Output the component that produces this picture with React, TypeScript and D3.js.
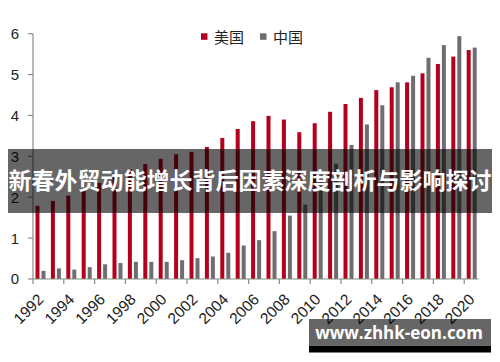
import React from 'react';
import * as d3 from 'd3';

const years = d3.range(1992, 2021);
const usValues = [1.79, 1.91, 2.04, 2.19, 2.35, 2.58, 2.68, 2.81, 2.94, 3.05, 3.11, 3.23, 3.45, 3.67, 3.86, 3.99, 3.9, 3.59, 3.81, 4.09, 4.28, 4.43, 4.62, 4.69, 4.81, 5.03, 5.26, 5.44, 5.6];
const chinaValues = [0.2, 0.26, 0.23, 0.29, 0.36, 0.39, 0.42, 0.42, 0.42, 0.46, 0.51, 0.55, 0.64, 0.82, 0.95, 1.17, 1.55, 1.82, 2.37, 2.82, 3.28, 3.78, 4.25, 4.81, 4.97, 5.41, 5.72, 5.94, 5.66];
const yTicks = [0, 1, 2, 3, 4, 5, 6];
const xTickYears = d3.range(1992, 2021, 2);
const seriesNames = ['美国', '中国'];
const seriesColors = ['#B4001E', '#6E6E6E'];
const bannerText = '新春外贸动能增长背后因素深度剖析与影响探讨';
const watermark = 'www.zhhk-eon.com';

const W = 500;
const H = 362;
const left = 33;
const bottom = 279;
const top = 33.7;
const step = 15.4;

const App: React.FC = () => {
  const x = d3.scaleBand<number>()
    .domain(years)
    .range([left, left + step * years.length])
    .padding(0);
  const y = d3.scaleLinear().domain([0, 6]).range([bottom, top]);
  const barW = 4;
  const axisColor = '#8a8a8a';
  const font = '"Liberation Sans", Arial, sans-serif';

  return (
    <div style={{ position: 'fixed', left: 0, top: 0, width: W, height: H, background: '#fff' }}>
      <svg width={W} height={H} style={{ display: 'block' }}>
        {/* bars */}
        {years.map((yr, i) => (
          <g key={yr}>
            <rect x={x(yr)! + 2.5} y={y(usValues[i])} width={barW} height={bottom - y(usValues[i])} fill={seriesColors[0]} />
            <rect x={x(yr)! + 8.5} y={y(chinaValues[i])} width={barW} height={bottom - y(chinaValues[i])} fill={seriesColors[1]} />
          </g>
        ))}

        {/* y axis */}
        <line x1={left} x2={left} y1={top} y2={bottom} stroke={axisColor} strokeWidth={1.2} />
        {yTicks.map(t => (
          <g key={t}>
            <line x1={left - 5} x2={left} y1={y(t)} y2={y(t)} stroke={axisColor} strokeWidth={1.2} />
            <text x={left - 14} y={y(t)} dy="0.36em" textAnchor="end" fontSize={15} fontFamily={font} fill="#222">{t}</text>
          </g>
        ))}

        {/* x axis */}
        <line x1={left} x2={x.range()[1] - 1} y1={bottom} y2={bottom} stroke={axisColor} strokeWidth={1.2} />
        {xTickYears.map(yr => (
          <g key={yr}>
            <line x1={x(yr)!} x2={x(yr)!} y1={bottom} y2={bottom + 5} stroke={axisColor} strokeWidth={1.2} />
            <text transform={`translate(${x(yr)! + 11.5},${bottom + 21.5}) rotate(-45)`} textAnchor="end" fontSize={15.5} fontFamily={font} fill="#222">{yr}</text>
          </g>
        ))}

        {/* legend */}
        {seriesNames.map((name, i) => (
          <g key={name} transform={`translate(${201 + i * 59},33.3)`}>
            <rect width={6.5} height={6.5} fill={seriesColors[i]} />
            <text x={13} y={3.5} dy="0.38em" fontSize={15} fontFamily='"Noto Sans CJK SC", sans-serif' fill="#222">{name}</text>
          </g>
        ))}

        {/* banner overlay */}
        <rect x={8} y={149} width={484} height={64} fill="rgba(0,0,0,0.6)" />
        <text x={250} y={181} dy="0.36em" textAnchor="middle" fontSize={23} fontWeight="bold" fontFamily='"Noto Sans CJK SC", sans-serif' fill="#fff">{bannerText}</text>

        {/* watermark */}
        <rect x={309} y={319} width={182} height={27} fill="rgba(0,0,0,0.6)" />
        <rect x={309} y={346} width={182} height={6.5} fill="#000" />
        <text x={399} y={333} dy="0.36em" textAnchor="middle" fontSize={17} fontWeight="bold" fontFamily='"Open Sans", "Noto Sans", sans-serif' fill="#fff">{watermark}</text>
      </svg>
    </div>
  );
};

export default App;
